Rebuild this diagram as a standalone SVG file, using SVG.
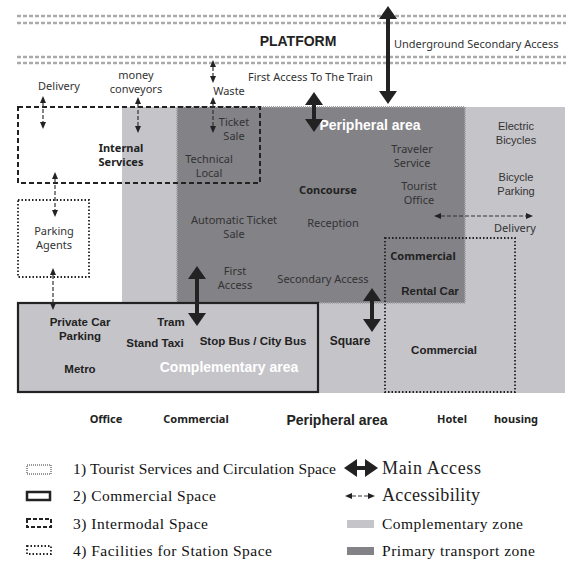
<svg xmlns="http://www.w3.org/2000/svg" width="576" height="568" viewBox="0 0 576 568">
<style>
.t{font-family:"Noto Sans","Open Sans",sans-serif;font-size:11px;fill:#333;text-anchor:middle}
.ts{font-family:"Noto Sans","Open Sans",sans-serif;font-size:11px;fill:#333;text-anchor:start}
.tb{font-family:"Noto Sans","Open Sans",sans-serif;font-size:11px;font-weight:bold;fill:#222;text-anchor:middle}
.a{font-family:"Liberation Sans",Arial,sans-serif;font-size:11.5px;font-weight:bold;fill:#222;text-anchor:middle}
.w{font-family:"Liberation Sans",Arial,sans-serif;font-size:14px;font-weight:bold;fill:#fff;text-anchor:middle}
.lg{font-family:"Liberation Serif","Times New Roman",serif;font-size:15.5px;fill:#111}
.lg2{font-family:"Liberation Serif","Times New Roman",serif;font-size:18px;fill:#222}
.plat{stroke:#aaaaaa;stroke-width:2.5;stroke-dasharray:4 2;fill:none}
.thick{stroke:#222;stroke-width:4;fill:none}
.thin{stroke:#333;stroke-width:1.2;stroke-dasharray:4 2;fill:none}
.hatch{stroke:#a3a2a7;stroke-width:2;stroke-dasharray:1 1;fill:none}
</style>
<defs>
<marker id="big" markerUnits="userSpaceOnUse" markerWidth="14" markerHeight="20" refX="0" refY="9" orient="auto-start-reverse" viewBox="0 0 14 18">
<path d="M0,0 L13,9 L0,18 z" fill="#222"/>
</marker>
<marker id="sm" markerUnits="userSpaceOnUse" markerWidth="8" markerHeight="7" refX="0" refY="3" orient="auto-start-reverse" viewBox="0 0 8 6">
<path d="M0,0 L7,3 L0,6 z" fill="#222"/>
</marker>
</defs>
<rect width="576" height="568" fill="#fff"/>

<g id="platform">
<line class="plat" x1="17" y1="16" x2="566" y2="16"/>
<line class="plat" x1="17" y1="23" x2="566" y2="23"/>
<line class="plat" x1="17" y1="57" x2="566" y2="57"/>
<line class="plat" x1="17" y1="63" x2="566" y2="63"/>
<text x="298" y="46" font-family="Liberation Sans,Arial,sans-serif" font-size="14" font-weight="bold" fill="#222" text-anchor="middle">PLATFORM</text>
</g>

<g id="complementary-zone">
<rect x="122" y="107" width="443" height="286" fill="#c5c4c9"/>
</g>

<g id="primary-zone">
<rect x="177" y="107" width="288" height="196" fill="#838287"/>
<rect class="hatch" x="177" y="107" width="288" height="196"/>
</g>

<g id="internal-services">
<rect x="18" y="107" width="242" height="76" fill="none" stroke="#222" stroke-width="2" stroke-dasharray="5 3"/>
<text class="tb" x="121" y="152">Internal</text>
<text class="tb" x="121" y="166">Services</text>
</g>

<g id="parking-agents">
<rect x="18" y="200" width="71" height="77" fill="#fff" stroke="#222" stroke-width="1.8" stroke-dasharray="1.5 2"/>
<text class="t" x="54" y="235">Parking</text>
<text class="t" x="54" y="249">Agents</text>
</g>

<g id="commercial-right">
<rect x="385" y="238" width="130" height="154" fill="none" stroke="#222" stroke-width="1.8" stroke-dasharray="1.5 2"/>
<text class="tb" x="423" y="260">Commercial</text>
<text class="a" x="430" y="295">Rental Car</text>
<text class="a" x="444" y="354">Commercial</text>
</g>

<g id="complementary-area">
<rect x="18" y="303" width="300" height="89" fill="#c5c4c9" stroke="#222" stroke-width="2.2"/>
<text class="a" x="80" y="326">Private Car</text>
<text class="a" x="80" y="340">Parking</text>
<text class="a" x="171" y="326">Tram</text>
<text class="a" x="155" y="347">Stand Taxi</text>
<text class="a" x="253" y="345">Stop Bus / City Bus</text>
<text class="a" x="80" y="373">Metro</text>
<text class="w" x="229" y="372">Complementary area</text>
</g>

<g id="primary-labels">
<text class="t" x="234" y="126">Ticket</text>
<text class="t" x="234" y="140">Sale</text>
<text class="t" x="209" y="163">Technical</text>
<text class="t" x="209" y="177">Local</text>
<text class="w" x="370" y="130">Peripheral area</text>
<text class="t" x="412" y="153">Traveler</text>
<text class="t" x="412" y="167">Service</text>
<text class="t" x="419" y="190">Tourist</text>
<text class="t" x="419" y="204">Office</text>
<text class="tb" x="328" y="194">Concourse</text>
<text class="t" x="333" y="227">Reception</text>
<text class="t" x="234" y="224">Automatic Ticket</text>
<text class="t" x="234" y="238">Sale</text>
<text class="t" x="235" y="275">First</text>
<text class="t" x="235" y="289">Access</text>
<text class="t" x="323" y="283">Secondary Access</text>
</g>

<g id="right-labels">
<text class="t" x="516" y="130" style="font-family:'Liberation Sans',Arial,sans-serif">Electric</text>
<text class="t" x="516" y="144" style="font-family:'Liberation Sans',Arial,sans-serif">Bicycles</text>
<text class="t" x="516" y="181" style="font-family:'Liberation Sans',Arial,sans-serif">Bicycle</text>
<text class="t" x="516" y="195" style="font-family:'Liberation Sans',Arial,sans-serif">Parking</text>
<text class="t" x="515" y="232">Delivery</text>
<text class="a" x="350" y="345" style="font-size:12px">Square</text>
</g>

<g id="top-labels">
<text class="ts" x="394" y="48">Underground Secondary Access</text>
<text class="ts" x="248" y="81">First Access To The Train</text>
<text class="t" x="59" y="90">Delivery</text>
<text class="t" x="136" y="79">money</text>
<text class="t" x="136" y="93">conveyors</text>
<text class="t" x="229" y="95">Waste</text>
</g>

<g id="peripheral-labels">
<text class="tb" x="106" y="423">Office</text>
<text class="tb" x="196" y="423">Commercial</text>
<text class="w" x="337" y="425" style="fill:#222">Peripheral area</text>
<text class="tb" x="452" y="423">Hotel</text>
<text class="tb" x="516" y="423">housing</text>
</g>

<g id="connectors">
<line class="thick" x1="388" y1="19" x2="388" y2="91" marker-start="url(#big)" marker-end="url(#big)"/>
<line class="thick" x1="314" y1="105" x2="314" y2="119" marker-start="url(#big)" marker-end="url(#big)"/>
<line class="thick" x1="197" y1="279" x2="197" y2="313" marker-start="url(#big)" marker-end="url(#big)"/>
<line class="thick" x1="372" y1="301" x2="372" y2="319" marker-start="url(#big)" marker-end="url(#big)"/>
<line class="thin" x1="213" y1="67" x2="213" y2="76" marker-start="url(#sm)" marker-end="url(#sm)"/>
<line class="thin" x1="213" y1="104" x2="213" y2="126" marker-start="url(#sm)" marker-end="url(#sm)"/>
<line class="thin" x1="43" y1="103" x2="43" y2="122" marker-start="url(#sm)" marker-end="url(#sm)"/>
<line class="thin" x1="138" y1="104" x2="138" y2="126" marker-start="url(#sm)" marker-end="url(#sm)"/>
<line class="thin" x1="55" y1="179" x2="55" y2="210" marker-start="url(#sm)" marker-end="url(#sm)"/>
<line class="thin" x1="53" y1="275" x2="53" y2="303" marker-start="url(#sm)" marker-end="url(#sm)"/>
<line class="thin" x1="441" y1="216" x2="526" y2="216" marker-start="url(#sm)" marker-end="url(#sm)"/>
</g>

<g id="legend">
<rect x="27" y="465" width="24" height="9" fill="none" stroke="#999" stroke-width="2" stroke-dasharray="1 1"/>
<text class="lg" x="73" y="474" textLength="263">1) Tourist Services and Circulation Space</text>
<rect x="27" y="492" width="23" height="8" fill="#fff" stroke="#222" stroke-width="2.5"/>
<text class="lg" x="73" y="501" textLength="143">2) Commercial Space</text>
<rect x="27" y="519" width="24" height="8" fill="none" stroke="#222" stroke-width="2" stroke-dasharray="4 2"/>
<text class="lg" x="73" y="529" textLength="135">3) Intermodal Space</text>
<rect x="27" y="546" width="24" height="8" fill="none" stroke="#222" stroke-width="1.8" stroke-dasharray="1.5 2"/>
<text class="lg" x="73" y="556" textLength="199">4) Facilities for Station Space</text>
<line class="thick" x1="357" y1="468" x2="365" y2="468" marker-start="url(#big)" marker-end="url(#big)"/>
<text class="lg2" x="382" y="474" textLength="99">Main Access</text>
<line class="thin" x1="352" y1="496" x2="368" y2="496" marker-start="url(#sm)" marker-end="url(#sm)"/>
<text class="lg2" x="382" y="501" textLength="98">Accessibility</text>
<rect x="347" y="520" width="27" height="8" fill="#c5c4c9"/>
<text class="lg" x="382" y="529" textLength="141">Complementary zone</text>
<rect x="347" y="547" width="27" height="8" fill="#838287"/>
<text class="lg" x="382" y="556" textLength="153">Primary transport zone</text>
</g>
</svg>
